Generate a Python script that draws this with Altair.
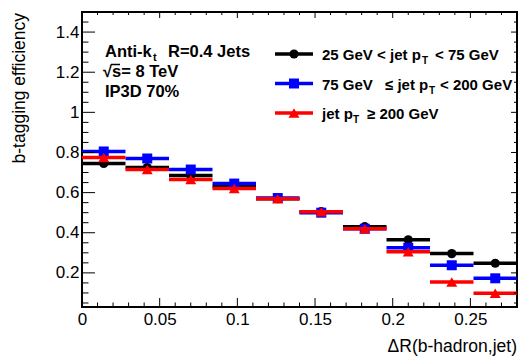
import altair as alt
import pandas as pd

# ---- data ----
bin_lo = [0.0, 0.028, 0.056, 0.084, 0.112, 0.140, 0.168, 0.196, 0.224, 0.252]
bin_hi = [0.028, 0.056, 0.084, 0.112, 0.140, 0.168, 0.196, 0.224, 0.252, 0.280]
bin_center = [0.014, 0.042, 0.070, 0.098, 0.126, 0.154, 0.182, 0.210, 0.238, 0.266]
eff_low = [0.745, 0.725, 0.685, 0.630, 0.570, 0.505, 0.430, 0.365, 0.296, 0.248]
eff_mid = [0.805, 0.770, 0.715, 0.645, 0.573, 0.500, 0.420, 0.325, 0.238, 0.173]
eff_high = [0.775, 0.715, 0.665, 0.620, 0.570, 0.505, 0.420, 0.305, 0.155, 0.098]

series_colors = ["#000000", "#0000ff", "#ff0000"]
series_shapes = ["circle", "square", "triangle-up"]
series_sizes = [85, 100, 120]
series_values = [eff_low, eff_mid, eff_high]

# legend text pieces: (text, x, is_subscript) per row
legend_rows = [
    [("25 GeV < jet p", 240, False), ("T", 340, True), ("< 75 GeV", 353, False)],
    [("75 GeV", 240, False), ("≤ jet p", 303, False), ("T", 347, True), ("< 200 GeV", 358, False)],
    [("jet p", 240, False), ("T", 271, True), ("≥ 200 GeV", 285, False)],
]

x_major = [0, 0.05, 0.1, 0.15, 0.2, 0.25]
x_minor = [0.01, 0.02, 0.03, 0.04, 0.06, 0.07, 0.08, 0.09, 0.11, 0.12, 0.13, 0.14,
           0.16, 0.17, 0.18, 0.19, 0.21, 0.22, 0.23, 0.24, 0.26, 0.27]
y_major = [0.2, 0.4, 0.6, 0.8, 1.0, 1.2, 1.4]
y_minor = [0.05, 0.1, 0.15, 0.25, 0.3, 0.35, 0.45, 0.5, 0.55, 0.65, 0.7, 0.75,
           0.85, 0.9, 0.95, 1.05, 1.1, 1.15, 1.25, 1.3, 1.35, 1.45]

FONT = "Liberation Sans"
W, H = 435, 295

xs = alt.Scale(domain=[0, 0.28], nice=False, zero=False)
ys = alt.Scale(domain=[0.03, 1.5], nice=False, zero=False)
xaxis = alt.Axis(values=x_major, format="~g", labelPadding=4, labelFlush=False,
                 labelOverlap=False, labelBound=False, title=None)
yaxis = alt.Axis(values=y_major, format="~g", labelPadding=3, labelOverlap=False, title=None)


def X(field):
    return alt.X(field, scale=xs, axis=xaxis)


def Y(field):
    return alt.Y(field, scale=ys, axis=yaxis)


one = pd.DataFrame({"k": [0]})
layers = []

# ---- data series ----
for vals, col, shp, sz in zip(series_values, series_colors, series_shapes, series_sizes):
    df = pd.DataFrame({"lo": bin_lo, "hi": bin_hi, "c": bin_center, "eff": vals})
    rule = alt.Chart(df).mark_rule(color=col, strokeWidth=3.5).encode(x=X("lo:Q"), x2="hi:Q", y=Y("eff:Q"))
    pts = alt.Chart(df).mark_point(shape=shp, filled=True, size=sz, color=col, opacity=1, strokeWidth=0).encode(
        x=X("c:Q"), y=Y("eff:Q"))
    layers += [rule, pts]


# ---- ticks (inside the frame, on all four sides) ----
def xticks(vals, y0, y1):
    return alt.Chart(pd.DataFrame({"v": vals})).mark_rule(color="black", strokeWidth=1).encode(
        x=X("v:Q"), y=alt.value(y0), y2=alt.value(y1))


def yticks(vals, x0, x1):
    return alt.Chart(pd.DataFrame({"v": vals})).mark_rule(color="black", strokeWidth=1).encode(
        y=Y("v:Q"), x=alt.value(x0), x2=alt.value(x1))


layers += [
    xticks(x_major, H, H - 9), xticks(x_minor, H, H - 4.5),
    xticks(x_major, 0, 6), xticks(x_minor, 0, 3),
    yticks(y_major, 0, 13), yticks(y_minor, 0, 6.5),
    yticks(y_major, W, W - 6), yticks(y_minor, W, W - 3),
]


# ---- text helpers ----
def txt(s, x, y, size, bold=False, align="left", angle=None):
    kw = dict(text=s, font=FONT, fontSize=size, align=align, baseline="alphabetic", color="black",
              fontWeight="bold" if bold else "normal")
    if angle is not None:
        kw["angle"] = angle
    return alt.Chart(one).mark_text(**kw).encode(x=alt.value(x), y=alt.value(y))


# axis titles
layers.append(txt("ΔR(b-hadron,jet)", W, 340, 17.5, align="right"))
layers.append(txt("b-tagging efficiency", -57, 1, 17.5, align="right", angle=270))

# annotation
layers.append(txt("Anti-k", 23, 45, 16.5, bold=True))
layers.append(txt("t", 71, 49, 11, bold=True))
layers.append(txt("R=0.4 Jets", 86, 45, 16.5, bold=True))
layers.append(txt("√s= 8 TeV", 21, 65, 16.5, bold=True))
layers.append(alt.Chart(one).mark_rule(color="black", strokeWidth=1.5).encode(
    x=alt.value(29), x2=alt.value(38), y=alt.value(52.5)))
layers.append(txt("IP3D 70%", 23, 85, 16.5, bold=True))

# legend
row_y = [42, 71.5, 101]
for i in range(3):
    yy = row_y[i]
    layers.append(alt.Chart(one).mark_rule(color=series_colors[i], strokeWidth=3.5).encode(
        x=alt.value(193), x2=alt.value(231), y=alt.value(yy)))
    layers.append(alt.Chart(one).mark_point(shape=series_shapes[i], filled=True, size=series_sizes[i],
                                            color=series_colors[i], opacity=1, strokeWidth=0).encode(
        x=alt.value(212), y=alt.value(yy)))
    for s, x, sub in legend_rows[i]:
        if sub:
            layers.append(txt(s, x, yy + 10, 10, bold=True))
        else:
            layers.append(txt(s, x, yy + 6, 15, bold=True))

chart = alt.layer(*layers).properties(
    width=W, height=H,
    autosize=alt.AutoSizeParams(type="none"),
    padding={"left": 82, "top": 12, "right": 1, "bottom": 52},
    background="white",
).configure_view(stroke="black", strokeWidth=2).configure_axis(
    ticks=False, domain=False, grid=False, labelFontSize=17, labelFont=FONT, labelColor="black"
)

chart.save("out.html", embed_options={"renderer": "svg", "actions": False})
